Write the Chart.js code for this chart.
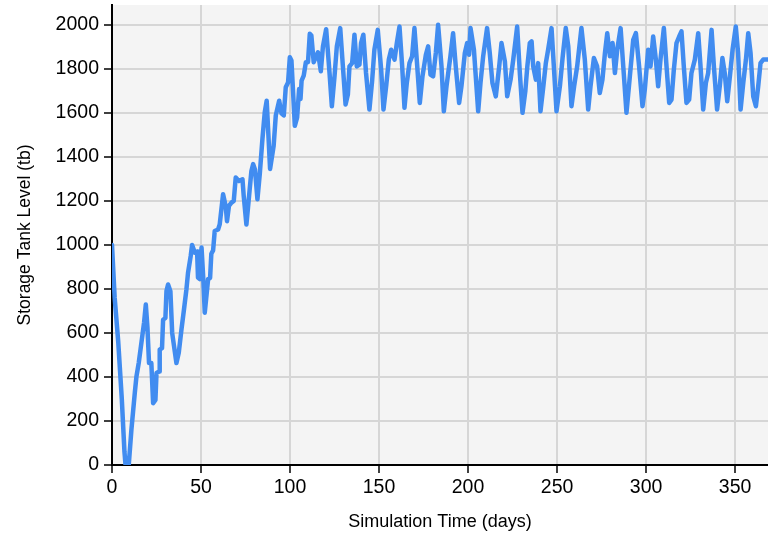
<!DOCTYPE html>
<html>
<head>
<meta charset="utf-8">
<script src="https://cdn.jsdelivr.net/npm/chart.js@4.4.1/dist/chart.umd.min.js"></script>
<style>
  html, body { margin: 0; padding: 0; background: #ffffff; }
  #wrap { width: 768px; height: 535px; }
</style>
</head>
<body>
<div id="wrap"><canvas id="c" width="768" height="535"></canvas></div>
<script>
// Simulation time (days)
const days = [
  0, 1.5, 3.5, 5.5, 7, 7.6, 9.4, 10.9, 12.8, 13.7, 15, 16.5, 18, 19, 19.9, 20.8, 22.1, 23.1, 24.4, 25,
  26.5, 26.8, 28.1, 28.7, 30, 30.6, 31.5, 32.8, 33.8, 36.2, 37.5, 39, 40.3, 41.8, 42.7, 44.2, 45, 46.5, 47.8, 48.3,
  49.3, 50.3, 51.3, 52.1, 54, 55.1, 55.8, 56.8, 57.7, 59.6, 60.5, 62.4, 63.9, 64.6, 65.7, 67.1, 68.4, 69.5, 71.3, 73.3,
  74, 75.5, 77, 78.3, 79.3, 80.3, 81.7, 83, 84.5, 85.8, 86.9, 88.8, 90.8, 92, 93.9, 95.2, 96.5, 97.6, 98.9, 99.9,
  100.8, 102.7, 104, 105.1, 105.9, 106.5, 107.7, 108.9, 110.1, 111.1, 112, 113.3, 114.8, 115.7, 117.3, 118.5, 120.3, 122.2, 123.5, 125,
  126.3, 128.2, 129.7, 131.2, 132.5, 133.4, 134.9, 136.2, 137.5, 139, 139.9, 141.2, 142.7, 144.6, 146.1, 147.4, 149.3, 151.2, 152.5, 154,
  155.5, 156.8, 158.7, 160, 161.5, 163, 164.3, 165.6, 167.1, 168.6, 169.9, 171.3, 172.9, 174.4, 176.3, 177.6, 178.9, 180.4, 181.9, 183.2,
  185.1, 186.4, 187.9, 190.1, 191.6, 193.1, 195, 196.3, 198.2, 199.5, 200.6, 201.4, 203.3, 205.7, 207, 208.5, 210.7, 212.2, 213.7, 215.6,
  217.5, 218.8, 220.7, 222, 223.9, 225.4, 227.6, 229.1, 230.6, 232.2, 233.3, 234.7, 235.7, 236.6, 238.1, 239.4, 240.7, 242.2, 243.7, 245,
  246.9, 248.2, 249.7, 251.6, 253.1, 254.9, 256.3, 258.1, 259.6, 261.3, 263.7, 265.6, 267.5, 268.8, 270.7, 272.5, 274, 275.5, 276.9, 278.2,
  279.7, 281.2, 282.5, 283.8, 285.7, 287.2, 289, 290.9, 292.8, 294.3, 296.1, 298, 299.3, 301.2, 302.5, 304, 305.5, 306.8, 308.1, 310,
  311.5, 313, 314.3, 315.6, 317.1, 318.6, 319.9, 321.2, 322.7, 324.2, 325.5, 327.4, 329.3, 330.6, 332.1, 333.6, 334.9, 336.8, 338.1, 339.9,
  341.4, 342.9, 344.2, 345.6, 347.1, 348.6, 350.4, 351.7, 353.1, 354.6, 356.1, 357.4, 358.7, 360.2, 361.7, 363, 364.3, 365.8, 368.5
];
// Storage tank level (tb)
const level = [
  1000, 760, 560, 300, 60, 0, 0, 160, 327, 400, 463, 554, 646, 729, 626, 463, 463, 281, 296, 418,
  425, 524, 531, 660, 668, 790, 820, 790, 600, 463, 510, 615, 698, 797, 873, 949, 1000, 965, 970, 852,
  845, 988, 845, 692, 845, 850, 960, 975, 1063, 1070, 1093, 1230, 1175, 1108, 1177, 1192, 1200, 1306, 1290, 1298,
  1222, 1093, 1222, 1336, 1367, 1343, 1207, 1321, 1481, 1602, 1655, 1345, 1450, 1588, 1655, 1598, 1588, 1716, 1738, 1853,
  1838, 1541, 1579, 1708, 1663, 1746, 1769, 1830, 1830, 1959, 1951, 1830, 1860, 1875, 1789, 1902, 1980, 1781, 1630, 1766,
  1902, 1985, 1811, 1638, 1683, 1811, 1826, 1955, 1811, 1819, 1917, 1955, 1781, 1615, 1743, 1887, 1977, 1796, 1615, 1721,
  1842, 1887, 1842, 1917, 1992, 1811, 1623, 1736, 1826, 1857, 1985, 1830, 1645, 1766, 1864, 1902, 1774, 1766, 1872, 2000,
  1811, 1607, 1721, 1857, 1962, 1811, 1645, 1721, 1872, 1917, 1864, 1985, 1887, 1607, 1736, 1857, 1985, 1872, 1736, 1675,
  1811, 1917, 1834, 1675, 1751, 1842, 1992, 1781, 1600, 1700, 1811, 1917, 1925, 1811, 1751, 1826, 1607, 1713, 1826, 1887,
  1985, 1811, 1607, 1721, 1849, 1985, 1902, 1630, 1721, 1811, 1985, 1842, 1615, 1721, 1849, 1811, 1690, 1751, 1872, 1962,
  1857, 1917, 1781, 1887, 1985, 1811, 1600, 1766, 1932, 1962, 1811, 1630, 1706, 1887, 1811, 1947, 1842, 1721, 1842, 1985,
  1811, 1645, 1660, 1796, 1917, 1947, 1970, 1811, 1645, 1660, 1781, 1842, 1962, 1811, 1615, 1736, 1781, 1977, 1811, 1615,
  1721, 1849, 1781, 1653, 1766, 1887, 1992, 1872, 1615, 1736, 1842, 1962, 1872, 1675, 1630, 1721, 1826, 1842, 1842
];
const xTickStep = 50;
const yTickStep = 200;
const xTitle = 'Simulation Time (days)';
const yTitle = 'Storage Tank Level (tb)';

const FONT = '"Liberation Sans", Arial, Helvetica, sans-serif';

const bgPlugin = {
  id: 'bg',
  beforeDraw(chart) {
    const {ctx, chartArea: a} = chart;
    ctx.save();
    ctx.fillStyle = '#ffffff';
    ctx.fillRect(0, 0, chart.width, chart.height);
    ctx.fillStyle = '#f4f4f4';
    ctx.fillRect(a.left, a.top, a.right - a.left, a.bottom - a.top);
    ctx.restore();
  }
};

new Chart(document.getElementById('c'), {
  type: 'line',
  data: {
    datasets: [{
      data: days.map((d, i) => ({x: d, y: level[i]})),
      borderColor: '#418cf0',
      borderWidth: 4.5,
      pointRadius: 0,
      tension: 0,
      borderJoinStyle: 'round',
      borderCapStyle: 'round',
      fill: false
    }]
  },
  plugins: [bgPlugin],
  options: {
    responsive: false,
    animation: false,
    devicePixelRatio: 1,
    layout: { padding: { top: 5, right: 0, bottom: 0, left: 0 } },
    plugins: { legend: { display: false }, tooltip: { enabled: false } },
    scales: {
      x: {
        type: 'linear',
        min: 0,
        max: 368.5,
        ticks: {
          stepSize: xTickStep,
          includeBounds: false,
          color: '#000',
          font: { family: FONT, size: 19.5 },
          padding: 3,
          maxRotation: 0,
          callback: (v) => String(v)
        },
        grid: { color: '#d6d6d6', lineWidth: 2, tickColor: '#000', tickLength: 8, tickWidth: 1.5 },
        border: { display: true, color: '#000', width: 2 },
        title: {
          display: true, text: xTitle, color: '#000',
          font: { family: FONT, size: 18 },
          padding: { top: 0, bottom: 2 }
        },
        afterFit(s) { s.height = 70; s.paddingLeft = 0; s.paddingRight = 0; }
      },
      y: {
        type: 'linear',
        min: 0,
        max: 2090,
        ticks: {
          stepSize: yTickStep,
          includeBounds: false,
          color: '#000',
          font: { family: FONT, size: 19.5 },
          padding: 5,
          callback: (v) => String(v)
        },
        grid: { color: '#d6d6d6', lineWidth: 2, tickColor: '#000', tickLength: 8, tickWidth: 1.5 },
        border: { display: true, color: '#000', width: 2 },
        title: {
          display: true, text: yTitle, color: '#000',
          font: { family: FONT, size: 17.5 },
          padding: { top: 14.5, bottom: 0 }
        },
        afterFit(s) { s.width = 112; s.paddingTop = 0; s.paddingBottom = 0; }
      }
    }
  }
});
</script>
</body>
</html>
